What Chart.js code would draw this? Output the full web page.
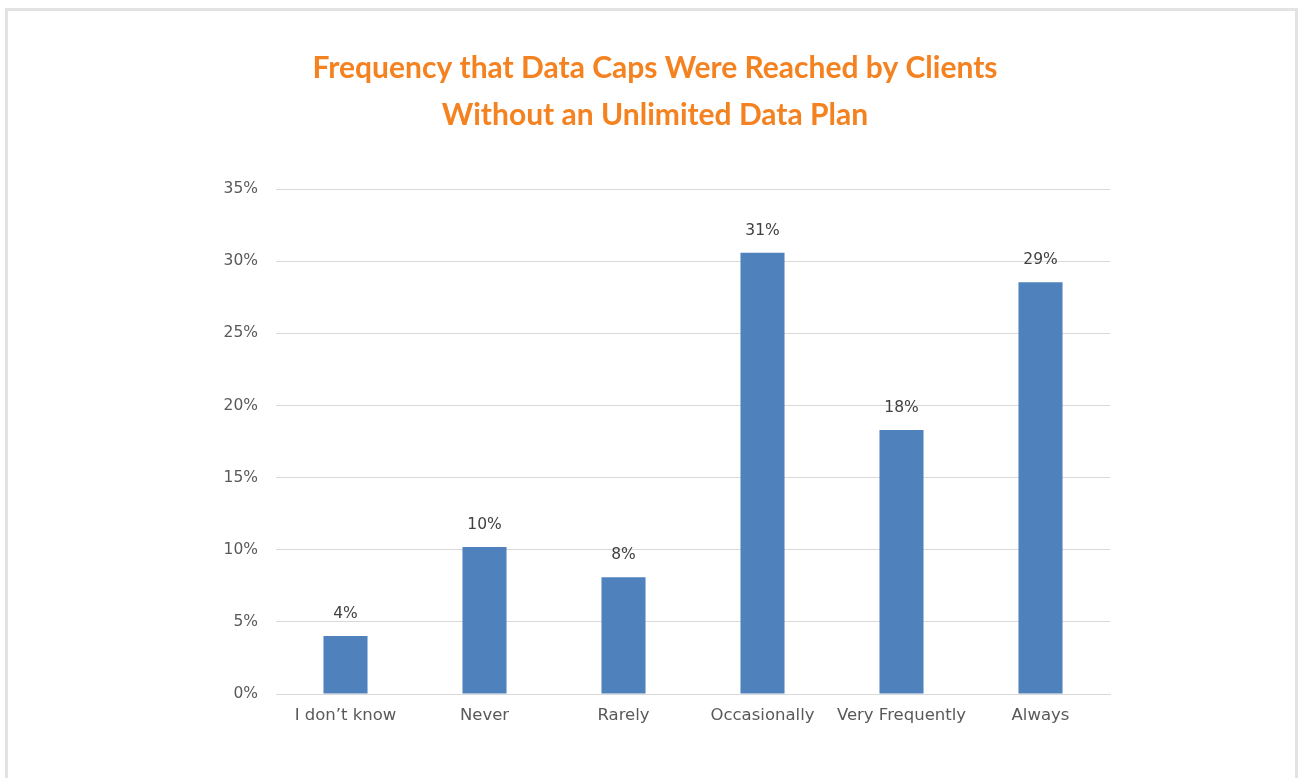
<!DOCTYPE html>
<html>
<head>
<meta charset="utf-8">
<script src="https://cdn.jsdelivr.net/npm/chart.js@4"></script>
<style>
  html, body { margin: 0; padding: 0; background: #fff; }
  .frame {
    position: absolute; left: 5px; top: 8px; width: 1293px; height: 790px;
    border: 3px solid #e3e3e3; box-sizing: border-box;
  }
  .wrap { position: absolute; left: 0; top: 0; width: 1302px; height: 778px; }
</style>
</head>
<body>
<div class="frame"></div>
<div class="wrap"><canvas id="capsChart" width="1302" height="778"></canvas></div>
<script>
// Data
const categories = ['I don\u2019t know', 'Never', 'Rarely', 'Occasionally', 'Very Frequently', 'Always'];
const shares = [4.02, 10.2, 8.1, 30.6, 18.3, 28.55];
const yTicks = [0, 5, 10, 15, 20, 25, 30, 35];

const labelFont = '"DejaVu Sans", Lato, sans-serif';

// Draw value labels above each bar
const barLabels = {
    id: 'barLabels',
    afterDatasetsDraw(chart) {
        const ctx = chart.ctx;
        const meta = chart.getDatasetMeta(0);
        ctx.save();
        ctx.font = '15.5px ' + labelFont;
        ctx.fillStyle = '#404040';
        ctx.textAlign = 'center';
        ctx.textBaseline = 'middle';
        meta.data.forEach(function(bar, i) {
            ctx.fillText(Math.round(shares[i]) + '%', bar.x, bar.y - 22);
        });
        ctx.restore();
    }
};

const ctx = document.getElementById('capsChart').getContext('2d');
new Chart(ctx, {
    type: 'bar',
    data: {
        labels: categories,
        datasets: [{
            data: shares,
            backgroundColor: '#4F81BD',
            categoryPercentage: 1,
            barPercentage: 0.317
        }]
    },
    options: {
        responsive: false,
        animation: false,
        layout: {
            padding: { left: 200, right: 192, top: 45, bottom: 44 }
        },
        plugins: {
            legend: { display: false },
            tooltip: { enabled: false },
            title: {
                display: true,
                text: ['Frequency that Data Caps Were Reached by Clients', 'Without an Unlimited Data Plan'],
                color: '#F58220',
                font: { family: 'Lato, "Open Sans", sans-serif', size: 30, weight: 'bold', lineHeight: 1.57 },
                padding: { top: 0, bottom: 50 }
            }
        },
        scales: {
            x: {
                grid: { display: false, drawTicks: false },
                border: { color: '#d9d9d9' },
                ticks: {
                    color: '#595959',
                    font: { family: labelFont, size: 16.5 },
                    padding: 12,
                    maxRotation: 0
                },
                afterFit: function(scale) { scale.height = 40; }
            },
            y: {
                min: 0,
                max: 35,
                afterBuildTicks: function(scale) {
                    scale.ticks = yTicks.map(v => ({ value: v }));
                },
                grid: { color: '#d9d9d9', drawTicks: false },
                border: { display: false },
                ticks: {
                    color: '#595959',
                    font: { family: labelFont, size: 15.5 },
                    padding: 18,
                    callback: v => v + '%'
                },
                afterFit: function(scale) { scale.width = 76; }
            }
        }
    },
    plugins: [barLabels]
});
</script>
</body>
</html>
